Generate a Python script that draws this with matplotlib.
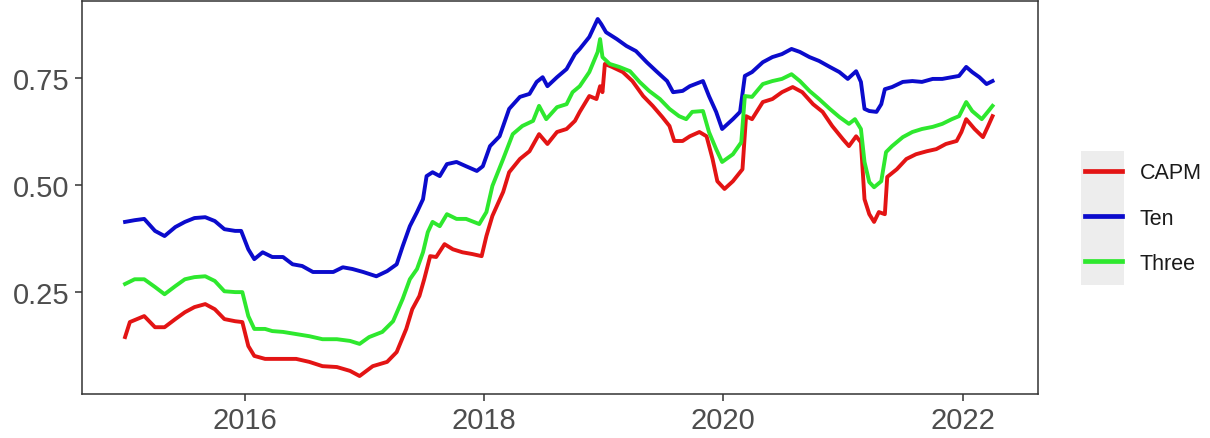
import matplotlib.pyplot as plt
from matplotlib.patches import Rectangle

# Time axis in decimal years, one list per series
capm_t = [2015.00, 2015.04, 2015.16, 2015.25, 2015.33, 2015.42, 2015.50, 2015.58, 2015.67, 2015.75,
          2015.83, 2015.92, 2015.98, 2016.03, 2016.08, 2016.17, 2016.32, 2016.43, 2016.54, 2016.65,
          2016.77, 2016.88, 2016.96, 2017.07, 2017.19, 2017.27, 2017.35, 2017.40, 2017.46, 2017.50,
          2017.55, 2017.60, 2017.67, 2017.74, 2017.82, 2017.90, 2017.98, 2018.02, 2018.07, 2018.16,
          2018.21, 2018.30, 2018.38, 2018.46, 2018.53, 2018.61, 2018.69, 2018.76, 2018.80, 2018.88,
          2018.94, 2018.97, 2018.99, 2019.01, 2019.07, 2019.16, 2019.24, 2019.33, 2019.41, 2019.49,
          2019.55, 2019.59, 2019.66, 2019.72, 2019.80, 2019.86, 2019.91, 2019.95, 2020.01, 2020.08,
          2020.16, 2020.19, 2020.24, 2020.33, 2020.41, 2020.49, 2020.58, 2020.66, 2020.75, 2020.83,
          2020.91, 2021.00, 2021.05, 2021.11, 2021.15, 2021.18, 2021.22, 2021.26, 2021.30, 2021.35,
          2021.37, 2021.45, 2021.53, 2021.61, 2021.70, 2021.78, 2021.86, 2021.95, 2021.99, 2022.03,
          2022.10, 2022.17, 2022.21, 2022.25]
capm = [0.145, 0.180, 0.194, 0.168, 0.168, 0.187, 0.203, 0.215, 0.222, 0.210,
        0.187, 0.182, 0.180, 0.124, 0.101, 0.094, 0.094, 0.094, 0.087, 0.077,
        0.075, 0.066, 0.054, 0.077, 0.087, 0.110, 0.164, 0.210, 0.241, 0.280,
        0.334, 0.332, 0.362, 0.350, 0.343, 0.339, 0.334, 0.381, 0.428, 0.484,
        0.530, 0.561, 0.579, 0.619, 0.596, 0.624, 0.631, 0.650, 0.671, 0.708,
        0.701, 0.731, 0.717, 0.783, 0.776, 0.764, 0.743, 0.708, 0.685, 0.659,
        0.638, 0.603, 0.603, 0.614, 0.624, 0.614, 0.561, 0.509, 0.491, 0.509,
        0.537, 0.661, 0.654, 0.694, 0.701, 0.717, 0.729, 0.717, 0.689, 0.671,
        0.638, 0.607, 0.591, 0.614, 0.600, 0.467, 0.432, 0.414, 0.437, 0.432,
        0.519, 0.537, 0.561, 0.572, 0.579, 0.584, 0.596, 0.603, 0.624, 0.654,
        0.631, 0.612, 0.636, 0.661]

ten_t = [2015.00, 2015.08, 2015.16, 2015.25, 2015.33, 2015.42, 2015.50, 2015.58, 2015.67, 2015.75,
         2015.83, 2015.92, 2015.97, 2016.03, 2016.08, 2016.15, 2016.23, 2016.32, 2016.40, 2016.48,
         2016.57, 2016.65, 2016.74, 2016.82, 2016.90, 2016.99, 2017.10, 2017.19, 2017.27, 2017.32,
         2017.38, 2017.44, 2017.49, 2017.52, 2017.57, 2017.63, 2017.69, 2017.77, 2017.85, 2017.94,
         2017.99, 2018.05, 2018.13, 2018.21, 2018.30, 2018.38, 2018.44, 2018.49, 2018.53, 2018.61,
         2018.69, 2018.76, 2018.80, 2018.88, 2018.95, 2018.98, 2019.02, 2019.11, 2019.19, 2019.27,
         2019.36, 2019.44, 2019.53, 2019.58, 2019.66, 2019.72, 2019.83, 2019.88, 2019.94, 2019.99,
         2020.08, 2020.14, 2020.18, 2020.24, 2020.33, 2020.41, 2020.49, 2020.57, 2020.64, 2020.72,
         2020.80, 2020.89, 2020.97, 2021.04, 2021.11, 2021.15, 2021.18, 2021.22, 2021.28, 2021.32,
         2021.35, 2021.41, 2021.50, 2021.58, 2021.66, 2021.75, 2021.83, 2021.91, 2021.97, 2022.03,
         2022.08, 2022.14, 2022.20, 2022.25]
ten = [0.414, 0.418, 0.421, 0.393, 0.381, 0.402, 0.414, 0.423, 0.425, 0.416,
       0.397, 0.393, 0.393, 0.350, 0.327, 0.343, 0.332, 0.332, 0.315, 0.311,
       0.297, 0.297, 0.297, 0.308, 0.304, 0.297, 0.287, 0.299, 0.315, 0.357,
       0.404, 0.437, 0.467, 0.521, 0.530, 0.521, 0.549, 0.554, 0.544, 0.533,
       0.544, 0.591, 0.614, 0.678, 0.706, 0.713, 0.741, 0.752, 0.731, 0.752,
       0.771, 0.806, 0.818, 0.846, 0.888, 0.876, 0.857, 0.841, 0.825, 0.813,
       0.787, 0.766, 0.743, 0.717, 0.720, 0.731, 0.743, 0.708, 0.671, 0.631,
       0.654, 0.671, 0.755, 0.764, 0.787, 0.799, 0.806, 0.818, 0.811, 0.799,
       0.790, 0.776, 0.764, 0.748, 0.766, 0.741, 0.678, 0.673, 0.671, 0.689,
       0.724, 0.729, 0.741, 0.743, 0.741, 0.748, 0.748, 0.752, 0.755, 0.776,
       0.764, 0.752, 0.736, 0.743]

three_t = [2015.00, 2015.08, 2015.16, 2015.25, 2015.33, 2015.42, 2015.50, 2015.58, 2015.67, 2015.75,
           2015.83, 2015.92, 2015.98, 2016.03, 2016.08, 2016.17, 2016.23, 2016.32, 2016.43, 2016.54,
           2016.65, 2016.77, 2016.88, 2016.96, 2017.04, 2017.15, 2017.24, 2017.32, 2017.38, 2017.44,
           2017.49, 2017.53, 2017.57, 2017.63, 2017.69, 2017.77, 2017.85, 2017.96, 2018.02, 2018.07,
           2018.16, 2018.24, 2018.32, 2018.41, 2018.46, 2018.52, 2018.61, 2018.69, 2018.74, 2018.80,
           2018.88, 2018.95, 2018.97, 2018.99, 2019.05, 2019.13, 2019.22, 2019.30, 2019.38, 2019.47,
           2019.55, 2019.63, 2019.69, 2019.74, 2019.83, 2019.88, 2019.94, 2019.99, 2020.08, 2020.15,
           2020.18, 2020.24, 2020.33, 2020.41, 2020.49, 2020.57, 2020.64, 2020.72, 2020.80, 2020.89,
           2020.97, 2021.05, 2021.10, 2021.15, 2021.18, 2021.22, 2021.26, 2021.32, 2021.36, 2021.41,
           2021.50, 2021.58, 2021.66, 2021.75, 2021.83, 2021.91, 2021.97, 2022.03, 2022.08, 2022.16,
           2022.21, 2022.25]
three = [0.269, 0.280, 0.280, 0.262, 0.245, 0.264, 0.280, 0.285, 0.287, 0.276,
         0.252, 0.250, 0.250, 0.194, 0.164, 0.164, 0.159, 0.157, 0.152, 0.147,
         0.140, 0.140, 0.136, 0.129, 0.145, 0.157, 0.182, 0.234, 0.280, 0.304,
         0.343, 0.390, 0.414, 0.404, 0.432, 0.421, 0.421, 0.409, 0.437, 0.498,
         0.561, 0.619, 0.638, 0.650, 0.685, 0.654, 0.682, 0.689, 0.717, 0.731,
         0.764, 0.811, 0.841, 0.799, 0.783, 0.776, 0.766, 0.741, 0.720, 0.701,
         0.678, 0.661, 0.654, 0.671, 0.673, 0.624, 0.584, 0.554, 0.572, 0.600,
         0.708, 0.706, 0.736, 0.743, 0.748, 0.759, 0.743, 0.720, 0.701, 0.678,
         0.659, 0.643, 0.654, 0.631, 0.554, 0.507, 0.495, 0.509, 0.577, 0.591,
         0.612, 0.624, 0.631, 0.636, 0.643, 0.654, 0.661, 0.694, 0.673, 0.654,
         0.671, 0.685]

labels = ['CAPM', 'Ten', 'Three']
colors = ['#e31414', '#0b0bcc', '#2ee82e']
year_ticks = [2016, 2018, 2020, 2022]
value_ticks = [0.25, 0.50, 0.75]

plt.rcParams['font.family'] = ['Liberation Sans', 'DejaVu Sans']

fig = plt.figure(figsize=(12.1, 4.39), dpi=100)
ax = fig.add_axes([82 / 1210, 44 / 439, 956 / 1210, 393 / 439])

for t, v, lab, c in zip([capm_t, ten_t, three_t], [capm, ten, three], labels, colors):
    ax.plot(t, v, color=c, lw=2.8, label=lab, solid_joinstyle='round')

ax.set_xlim(2014.64, 2022.63)
ax.set_ylim(0.012, 0.930)
ax.set_xticks(year_ticks)
ax.set_xticklabels([str(y) for y in year_ticks])
ax.set_yticks(value_ticks)
ax.set_yticklabels(['%.2f' % v for v in value_ticks])
ax.tick_params(length=5, width=1.1, color='#333333', labelsize=21, labelcolor='#4d4d4d', pad=4)
for s in ax.spines.values():
    s.set_color('#333333')
    s.set_linewidth(1.1)

# grey strip behind the legend keys
fig.patches.append(Rectangle((1081 / 1210, 1 - 286 / 439), 43 / 1210, 134 / 439,
                             transform=fig.transFigure, facecolor='#ededed', edgecolor='none', zorder=0))
leg = fig.legend(loc='center left', bbox_to_anchor=(1085 / 1210, 1 - 219 / 439), frameon=False,
                 fontsize=15.5, handlelength=1.7, handletextpad=0.85, labelspacing=1.13,
                 borderpad=0, borderaxespad=0)
for line in leg.get_lines():
    line.set_linewidth(3.4)
for txt in leg.get_texts():
    txt.set_color('#1a1a1a')

fig.savefig('out.png', dpi=100)
